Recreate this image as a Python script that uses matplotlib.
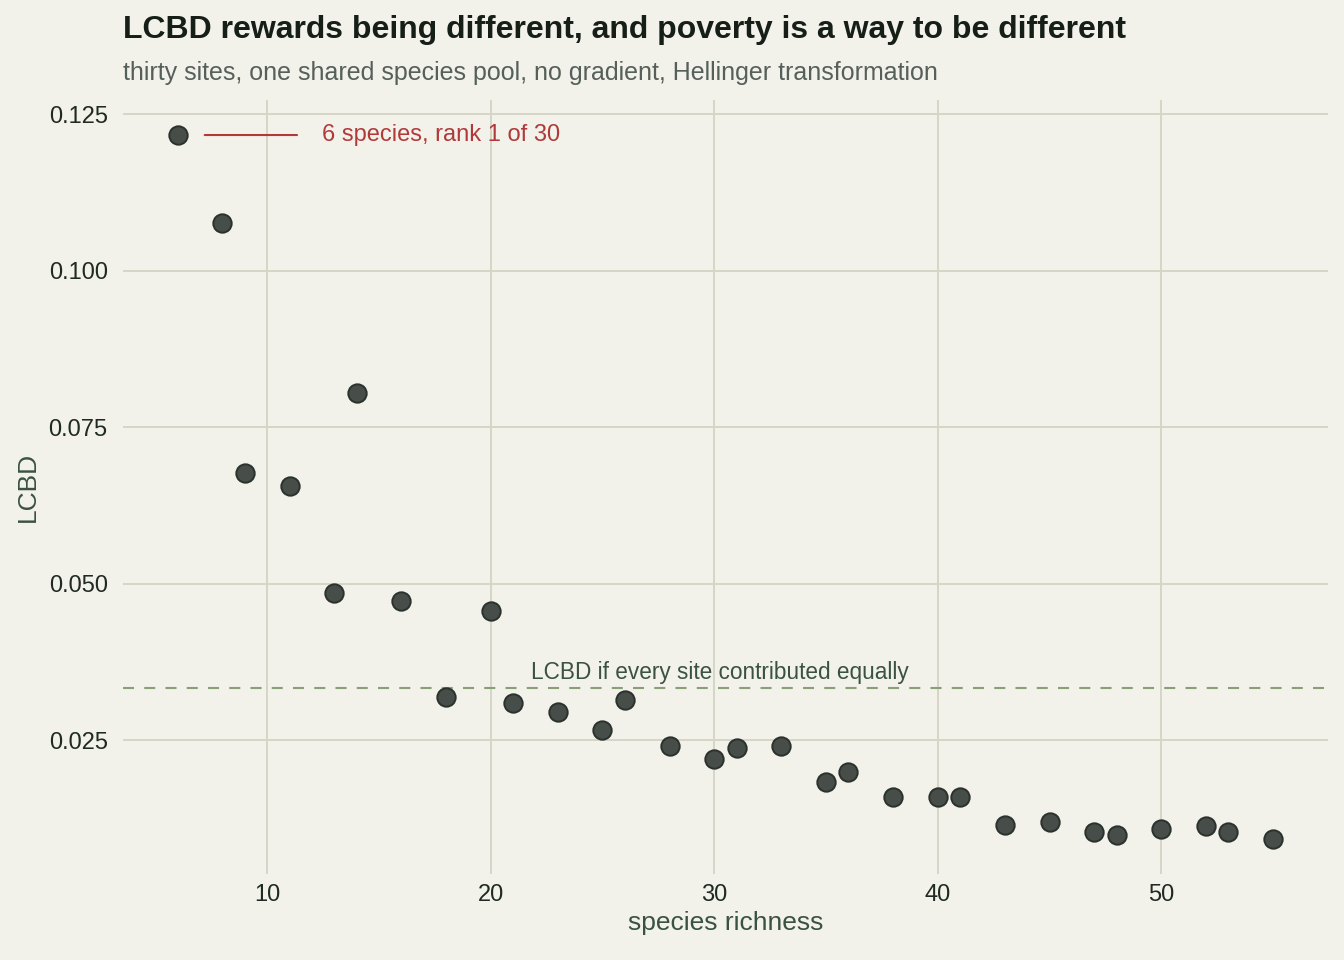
import matplotlib.pyplot as plt

# species richness and LCBD per site
richness = [6, 8, 9, 11, 13, 14, 16, 18, 20, 21, 23, 25, 26, 28, 30,
            31, 33, 35, 36, 38, 40, 41, 43, 45, 47, 48, 50, 52, 53, 55]
lcbd = [0.1217, 0.1076, 0.0677, 0.0657, 0.0486, 0.0805, 0.0473, 0.0320,
        0.0457, 0.0310, 0.0296, 0.0267, 0.0315, 0.0242, 0.0221, 0.0238,
        0.0242, 0.0184, 0.0200, 0.0160, 0.0160, 0.0160, 0.0115, 0.0120,
        0.0104, 0.0099, 0.0109, 0.0114, 0.0104, 0.0093]
n_sites = 30
equal_share = 1 / n_sites

bg = "#F2F1EA"
plt.rcParams["font.family"] = ["Liberation Sans", "DejaVu Sans"]

fig = plt.figure(figsize=(13.44, 9.6), dpi=100, facecolor=bg)
ax = fig.add_axes([0.0915, 0.0896, 0.8965, 0.8064])
ax.set_facecolor(bg)

ax.grid(True, color="#D5D6C4", linewidth=1.4)
ax.set_axisbelow(True)
for s in ax.spines.values():
    s.set_visible(False)

ax.scatter(richness, lcbd, s=175, color="#474E4A", edgecolor="#2B322E",
           linewidth=1.4, zorder=3)

# equal-contribution reference line
ax.axhline(equal_share, color="#8A9E78", linewidth=1.5, dashes=(5.3, 4.9), zorder=2)
ax.annotate("LCBD if every site contributed equally", xy=(21.8, equal_share),
            xytext=(0, 3), textcoords="offset points", ha="left", va="bottom",
            fontsize=16.3, color="#3A5240")

# label the top-ranked site
i_top = lcbd.index(max(lcbd))
ax.annotate(f"{richness[i_top]} species, rank 1 of {n_sites}",
            xy=(richness[i_top], lcbd[i_top]), xytext=(103.7, 0),
            textcoords="offset points", ha="left", va="center",
            fontsize=17, color="#B03A3A",
            arrowprops=dict(arrowstyle="-", color="#B03A3A", lw=1.5,
                            shrinkA=15.8, shrinkB=19.4))

ax.set_yticks([0.025, 0.050, 0.075, 0.100, 0.125])
ax.set_yticklabels(["0.025", "0.050", "0.075", "0.100", "0.125"])
ax.set_xticks([10, 20, 30, 40, 50])
ax.tick_params(length=0, labelsize=17, labelcolor="#1E2A22")
ax.tick_params(axis="y", pad=11)
ax.tick_params(axis="x", pad=7)

ax.set_xlabel("species richness", fontsize=19, color="#3A5240", labelpad=4)
ax.set_ylabel("LCBD", fontsize=19, color="#3A5240", labelpad=6)

fig.text(0.0915, 0.96, "LCBD rewards being different, and poverty is a way to be different",
         fontsize=23, fontweight="bold", color="#151F18", ha="left", va="baseline")
fig.text(0.0915, 0.917, "thirty sites, one shared species pool, no gradient, Hellinger transformation",
         fontsize=18, color="#55605A", ha="left", va="baseline")

fig.savefig("out.png", dpi=100, facecolor=bg)
